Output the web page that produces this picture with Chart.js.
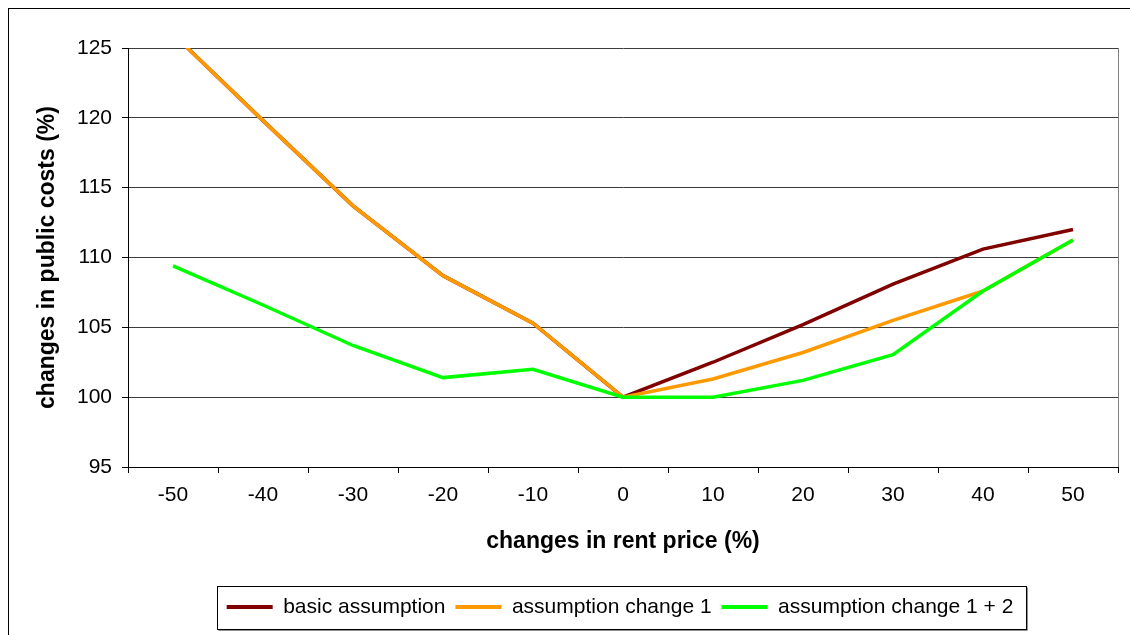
<!DOCTYPE html>
<html>
<head>
<meta charset="utf-8">
<title>changes in public costs</title>
<script src="https://cdn.jsdelivr.net/npm/chart.js@4"></script>
<style>
    html, body { margin: 0; padding: 0; background: #fff; overflow: hidden; }
    #wrap { position: relative; width: 1130px; height: 635px; }
    /* outer frame runs off the right and bottom edge */
    #frame {
        position: absolute; left: 8px; top: 8px;
        width: 1200px; height: 700px;
        border: 1px solid #000;
        pointer-events: none;
    }
</style>
</head>
<body>
<div id="wrap">
    <canvas id="costChart"></canvas>
    <div id="frame"></div>
</div>
<script>
// rent price change (%) along the x axis
const RENT_CHANGES = ['-50', '-40', '-30', '-20', '-10', '0', '10', '20', '30', '40', '50'];

// public costs (%) per scenario
const BASIC = [126.0, 119.8, 113.7, 108.7, 105.3, 100, 102.5, 105.2, 108.1, 110.6, 112.0];
const CHANGE_1 = [126.0, 119.8, 113.7, 108.7, 105.3, 100, 101.3, 103.2, 105.5, 107.6, 111.25];
const CHANGE_1_2 = [109.4, 106.6, 103.7, 101.4, 102.0, 100, 100, 101.2, 103.05, 107.6, 111.25];

const Y_MIN = 95;
const Y_MAX = 125;
const Y_STEP = 5;

const FONT = "'Liberation Sans', Arial, sans-serif";

// gray border on the right side of the plot area
const plotBorder = {
    id: 'plotBorder',
    beforeDatasetsDraw(chart) {
        const { ctx, chartArea } = chart;
        ctx.save();
        ctx.strokeStyle = '#808080';
        ctx.lineWidth = 1;
        ctx.beginPath();
        ctx.moveTo(Math.round(chartArea.right) + 0.5, chartArea.top);
        ctx.lineTo(Math.round(chartArea.right) + 0.5, chartArea.bottom);
        ctx.stroke();
        ctx.restore();
    }
};

// move the legend under the plot and put a box around it
const legendBox = {
    id: 'legendBox',
    afterLayout(chart) {
        const legend = chart.legend;
        const dx = 620 - (legend.left + legend.right) / 2;
        const dy = 586.5 - legend.top;
        legend.left += dx;
        legend.right += dx;
        legend.top += dy;
        legend.bottom += dy;
    },
    afterDraw(chart) {
        const legend = chart.legend;
        const boxes = legend.legendHitBoxes;
        if (!boxes || !boxes.length) return;
        const last = boxes[boxes.length - 1];
        const cy = legend.top + 10 + 10.5;
        const x0 = Math.round(boxes[0].left - 10) + 0.5;
        const x1 = Math.round(last.left + last.width + 13) + 0.5;
        const y0 = Math.round(cy - 21) + 0.5;
        const y1 = Math.round(cy + 22) + 0.5;
        const { ctx } = chart;
        ctx.save();
        ctx.lineWidth = 1;
        ctx.strokeStyle = '#000';
        ctx.strokeRect(x0, y0, x1 - x0, y1 - y0);
        ctx.strokeStyle = '#909090';
        ctx.beginPath();
        ctx.moveTo(x1 + 1, y0 + 1);
        ctx.lineTo(x1 + 1, y1 + 1);
        ctx.lineTo(x0 + 1, y1 + 1);
        ctx.stroke();
        ctx.restore();
    }
};

const ctx = document.getElementById('costChart').getContext('2d');
const costChart = new Chart(ctx, {
    type: 'line',
    data: {
        labels: RENT_CHANGES,
        datasets: [
            {
                label: 'basic assumption',
                data: BASIC,
                borderColor: '#800000',
                backgroundColor: '#800000',
                order: 3
            },
            {
                label: 'assumption change 1',
                data: CHANGE_1,
                borderColor: '#FF9900',
                backgroundColor: '#FF9900',
                order: 2
            },
            {
                label: 'assumption change 1 + 2',
                data: CHANGE_1_2,
                borderColor: '#00FF00',
                backgroundColor: '#00FF00',
                order: 1
            }
        ]
    },
    options: {
        responsive: true,
        maintainAspectRatio: false,
        animation: false,
        devicePixelRatio: 1,
        layout: {
            padding: { top: 48, right: 12, left: 20, bottom: 35 }
        },
        datasets: {
            line: {
                borderWidth: 3.5,
                pointRadius: 0,
                pointHoverRadius: 0,
                tension: 0,
                fill: false,
                clip: 0
            }
        },
        plugins: {
            tooltip: { enabled: false },
            legend: {
                position: 'bottom',
                labels: {
                    color: '#000',
                    font: { family: FONT, size: 21 },
                    boxWidth: 46,
                    boxHeight: 4,
                    padding: 10,
                    // keep dataset order in the legend, not draw order
                    sort: (a, b) => a.datasetIndex - b.datasetIndex,
                    generateLabels(chart) {
                        const items = Chart.defaults.plugins.legend.labels.generateLabels(chart);
                        return items.map(item => ({ ...item, lineWidth: 0, fillStyle: item.strokeStyle }));
                    }
                }
            }
        },
        scales: {
            x: {
                type: 'category',
                offset: true,
                afterFit(scale) { scale.height = 92; },
                grid: {
                    offset: true,
                    drawOnChartArea: false,
                    drawTicks: true,
                    tickLength: 6,
                    color: '#000'
                },
                border: { color: '#000', width: 1 },
                ticks: {
                    color: '#000',
                    padding: 10,
                    maxRotation: 0,
                    font: { family: FONT, size: 21 }
                },
                title: {
                    display: true,
                    text: 'changes in rent price (%)',
                    color: '#000',
                    font: { family: FONT, size: 23, weight: 'bold' },
                    padding: { top: 0, bottom: 4 }
                }
            },
            y: {
                min: Y_MIN,
                max: Y_MAX,
                afterFit(scale) { scale.width = 108; },
                grid: {
                    color: '#3c3c3c',
                    lineWidth: 1,
                    drawTicks: true,
                    tickLength: 6,
                    tickColor: '#000'
                },
                border: { color: '#000', width: 1 },
                ticks: {
                    stepSize: Y_STEP,
                    color: '#000',
                    padding: 10,
                    font: { family: FONT, size: 21 }
                },
                title: {
                    display: true,
                    text: 'changes in public costs (%)',
                    color: '#000',
                    font: { family: FONT, size: 23, weight: 'bold' },
                    padding: { top: 14, bottom: 0 }
                }
            }
        }
    },
    plugins: [plotBorder, legendBox]
});
</script>
</body>
</html>
